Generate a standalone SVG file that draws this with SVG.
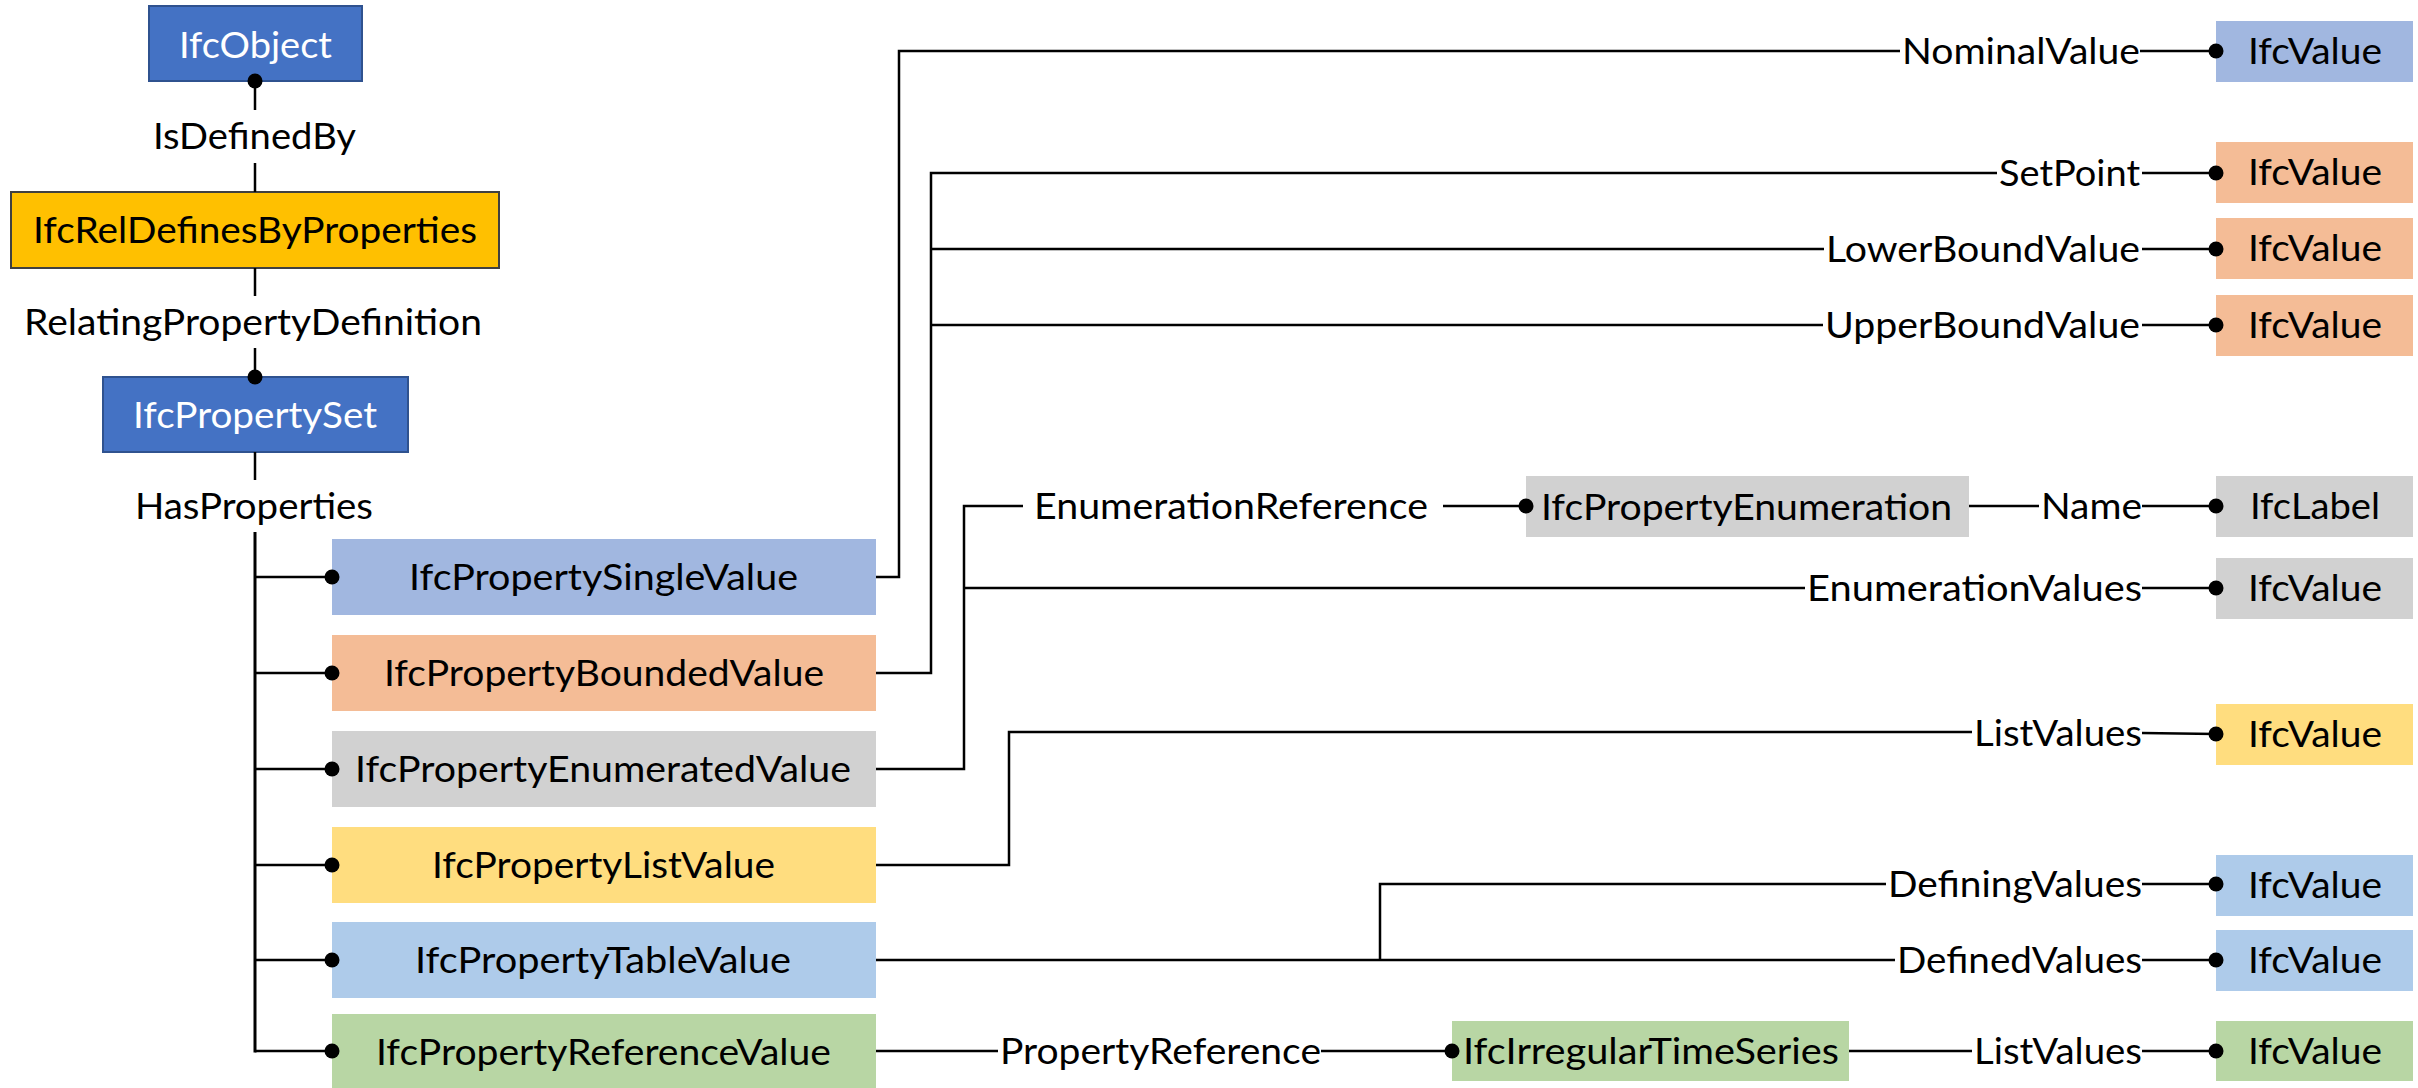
<svg xmlns="http://www.w3.org/2000/svg" width="2418" height="1088" viewBox="0 0 2418 1088">
  <style>
    text { font-family: Lato, "Open Sans", "Liberation Sans", sans-serif; font-size: 36.5px; fill: #000; }
    text.w { fill: #fff; }
    .c { stroke: #000; stroke-width: 2.5; fill: none; }
    .trunk { stroke-width: 3; }
    .dark { fill: #4472C4; stroke: #2F528F; stroke-width: 2; }
    .rel { fill: #FFC000; stroke: #404040; stroke-width: 2; }
    .single { fill: #A1B7E0; }
    .bounded { fill: #F4BC96; }
    .enum { fill: #D1D1D1; }
    .list { fill: #FFDD7F; }
    .table { fill: #AECBEA; }
    .ref { fill: #B8D6A4; }
  </style>
  <defs>
    <marker id="dot" viewBox="0 0 16 16" refX="8" refY="8" markerWidth="16" markerHeight="16" markerUnits="userSpaceOnUse">
      <circle cx="8" cy="8" r="7.5" fill="#000"/>
    </marker>
  </defs>

  <rect width="2418" height="1088" fill="#fff"/>

  <!-- left column: object, relationship, property set -->
  <g id="IfcObject">
    <rect class="dark" x="149" y="6" width="213" height="75"/>
    <text class="w" x="179" y="58" textLength="153" lengthAdjust="spacingAndGlyphs">IfcObject</text>
  </g>
  <g id="IfcRelDefinesByProperties">
    <rect class="rel" x="11" y="192" width="488" height="76"/>
    <text x="33" y="243" textLength="444" lengthAdjust="spacingAndGlyphs">IfcRelDefinesByProperties</text>
  </g>
  <g id="IfcPropertySet">
    <rect class="dark" x="103" y="377" width="305" height="75"/>
    <text class="w" x="133" y="428" textLength="244" lengthAdjust="spacingAndGlyphs">IfcPropertySet</text>
  </g>

  <!-- property subtypes -->
  <g id="IfcPropertySingleValue">
    <rect class="single" x="332" y="539" width="544" height="76"/>
    <text x="409" y="590" textLength="389" lengthAdjust="spacingAndGlyphs">IfcPropertySingleValue</text>
  </g>
  <g id="IfcPropertyBoundedValue">
    <rect class="bounded" x="332" y="635" width="544" height="76"/>
    <text x="384" y="686" textLength="440" lengthAdjust="spacingAndGlyphs">IfcPropertyBoundedValue</text>
  </g>
  <g id="IfcPropertyEnumeratedValue">
    <rect class="enum" x="332" y="731" width="544" height="76"/>
    <text x="355" y="782" textLength="496" lengthAdjust="spacingAndGlyphs">IfcPropertyEnumeratedValue</text>
  </g>
  <g id="IfcPropertyListValue">
    <rect class="list" x="332" y="827" width="544" height="76"/>
    <text x="432" y="878" textLength="343" lengthAdjust="spacingAndGlyphs">IfcPropertyListValue</text>
  </g>
  <g id="IfcPropertyTableValue">
    <rect class="table" x="332" y="922" width="544" height="76"/>
    <text x="415" y="973" textLength="376" lengthAdjust="spacingAndGlyphs">IfcPropertyTableValue</text>
  </g>
  <g id="IfcPropertyReferenceValue">
    <rect class="ref" x="332" y="1014" width="544" height="76"/>
    <text x="376" y="1065" textLength="455" lengthAdjust="spacingAndGlyphs">IfcPropertyReferenceValue</text>
  </g>

  <!-- intermediate entities -->
  <g id="IfcPropertyEnumeration">
    <rect class="enum" x="1526" y="476" width="443" height="61"/>
    <text x="1541" y="520" textLength="411" lengthAdjust="spacingAndGlyphs">IfcPropertyEnumeration</text>
  </g>
  <g id="IfcIrregularTimeSeries">
    <rect class="ref" x="1452" y="1021" width="397" height="60"/>
    <text x="1463" y="1064" textLength="376" lengthAdjust="spacingAndGlyphs">IfcIrregularTimeSeries</text>
  </g>

  <!-- value types -->
  <g id="NominalValueType">
    <rect class="single" x="2216" y="21" width="197" height="61"/>
    <text x="2248" y="64" textLength="134" lengthAdjust="spacingAndGlyphs">IfcValue</text>
  </g>
  <g id="SetPointType">
    <rect class="bounded" x="2216" y="142" width="197" height="61"/>
    <text x="2248" y="185" textLength="134" lengthAdjust="spacingAndGlyphs">IfcValue</text>
  </g>
  <g id="LowerBoundType">
    <rect class="bounded" x="2216" y="218" width="197" height="61"/>
    <text x="2248" y="261" textLength="134" lengthAdjust="spacingAndGlyphs">IfcValue</text>
  </g>
  <g id="UpperBoundType">
    <rect class="bounded" x="2216" y="295" width="197" height="61"/>
    <text x="2248" y="338" textLength="134" lengthAdjust="spacingAndGlyphs">IfcValue</text>
  </g>
  <g id="NameType">
    <rect class="enum" x="2216" y="476" width="197" height="61"/>
    <text x="2250" y="519" textLength="130" lengthAdjust="spacingAndGlyphs">IfcLabel</text>
  </g>
  <g id="EnumerationValuesType">
    <rect class="enum" x="2216" y="558" width="197" height="61"/>
    <text x="2248" y="601" textLength="134" lengthAdjust="spacingAndGlyphs">IfcValue</text>
  </g>
  <g id="ListValuesType">
    <rect class="list" x="2216" y="704" width="197" height="61"/>
    <text x="2248" y="747" textLength="134" lengthAdjust="spacingAndGlyphs">IfcValue</text>
  </g>
  <g id="DefiningValuesType">
    <rect class="table" x="2216" y="855" width="197" height="61"/>
    <text x="2248" y="898" textLength="134" lengthAdjust="spacingAndGlyphs">IfcValue</text>
  </g>
  <g id="DefinedValuesType">
    <rect class="table" x="2216" y="930" width="197" height="61"/>
    <text x="2248" y="973" textLength="134" lengthAdjust="spacingAndGlyphs">IfcValue</text>
  </g>
  <g id="TimeSeriesValuesType">
    <rect class="ref" x="2216" y="1021" width="197" height="60"/>
    <text x="2248" y="1064" textLength="134" lengthAdjust="spacingAndGlyphs">IfcValue</text>
  </g>

  <!-- connectors and their attribute labels -->
  <g id="connectors">
    <path class="c" d="M255 81 V110" marker-start="url(#dot)"/>
    <path class="c" d="M255 163 V192"/>
    <path class="c" d="M255 268 V296"/>
    <path class="c" d="M255 348 V377" marker-end="url(#dot)"/>
    <path class="c" d="M255 452 V480"/>
    <path class="c trunk" d="M255 532 V1052.5"/>
    <path class="c" d="M255 577 H332" marker-end="url(#dot)"/>
    <path class="c" d="M255 673 H332" marker-end="url(#dot)"/>
    <path class="c" d="M255 769 H332" marker-end="url(#dot)"/>
    <path class="c" d="M255 865 H332" marker-end="url(#dot)"/>
    <path class="c" d="M255 960 H332" marker-end="url(#dot)"/>
    <path class="c" d="M255 1051 H332" marker-end="url(#dot)"/>

    <!-- single value -->
    <path class="c" d="M876 577 H899 V51 H1900"/>
    <path class="c" d="M2140 51 H2216" marker-end="url(#dot)"/>

    <!-- bounded value -->
    <path class="c" d="M876 673 H931 V173 H1997"/>
    <path class="c" d="M931 249 H1824"/>
    <path class="c" d="M931 325 H1823"/>
    <path class="c" d="M2142 173 H2216" marker-end="url(#dot)"/>
    <path class="c" d="M2142 249 H2216" marker-end="url(#dot)"/>
    <path class="c" d="M2142 325 H2216" marker-end="url(#dot)"/>

    <!-- enumerated value -->
    <path class="c" d="M876 769 H964 V506 H1023"/>
    <path class="c" d="M1443 506 H1526" marker-end="url(#dot)"/>
    <path class="c" d="M964 588 H1805"/>
    <path class="c" d="M2142 588 H2216" marker-end="url(#dot)"/>
    <path class="c" d="M1969 506 H2039"/>
    <path class="c" d="M2142 506 H2216" marker-end="url(#dot)"/>

    <!-- list value -->
    <path class="c" d="M876 865 H1009 V732 H1972"/>
    <path class="c" d="M2142 733 L2216 734" marker-end="url(#dot)"/>

    <!-- table value -->
    <path class="c" d="M876 960 H1895"/>
    <path class="c" d="M1380 960 V884 H1886"/>
    <path class="c" d="M2142 884 H2216" marker-end="url(#dot)"/>
    <path class="c" d="M2142 960 H2216" marker-end="url(#dot)"/>

    <!-- reference value -->
    <path class="c" d="M876 1051 H998"/>
    <path class="c" d="M1321 1051 H1452" marker-end="url(#dot)"/>
    <path class="c" d="M1849 1051 H1972"/>
    <path class="c" d="M2142 1051 H2216" marker-end="url(#dot)"/>

    <g id="labels">
      <text x="153" y="149" textLength="203" lengthAdjust="spacingAndGlyphs">IsDefinedBy</text>
      <text x="24" y="335" textLength="458" lengthAdjust="spacingAndGlyphs">RelatingPropertyDefinition</text>
      <text x="135" y="519" textLength="238" lengthAdjust="spacingAndGlyphs">HasProperties</text>
      <text x="1902" y="64" textLength="238" lengthAdjust="spacingAndGlyphs">NominalValue</text>
      <text x="1999" y="186" textLength="141" lengthAdjust="spacingAndGlyphs">SetPoint</text>
      <text x="1826" y="262" textLength="314" lengthAdjust="spacingAndGlyphs">LowerBoundValue</text>
      <text x="1825" y="338" textLength="315" lengthAdjust="spacingAndGlyphs">UpperBoundValue</text>
      <text x="1034" y="519" textLength="394" lengthAdjust="spacingAndGlyphs">EnumerationReference</text>
      <text x="2041" y="519" textLength="101" lengthAdjust="spacingAndGlyphs">Name</text>
      <text x="1807" y="601" textLength="335" lengthAdjust="spacingAndGlyphs">EnumerationValues</text>
      <text x="1974" y="746" textLength="168" lengthAdjust="spacingAndGlyphs">ListValues</text>
      <text x="1888" y="897" textLength="254" lengthAdjust="spacingAndGlyphs">DefiningValues</text>
      <text x="1897" y="973" textLength="245" lengthAdjust="spacingAndGlyphs">DefinedValues</text>
      <text x="1000" y="1064" textLength="321" lengthAdjust="spacingAndGlyphs">PropertyReference</text>
      <text x="1974" y="1064" textLength="168" lengthAdjust="spacingAndGlyphs">ListValues</text>
    </g>
  </g>
</svg>
